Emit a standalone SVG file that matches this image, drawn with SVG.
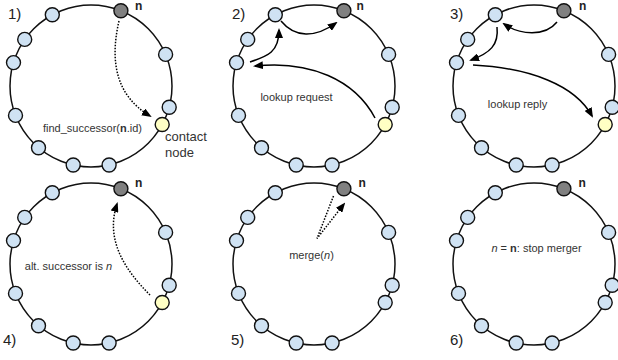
<svg xmlns="http://www.w3.org/2000/svg" width="618" height="360" viewBox="0 0 618 360">
<style>
.ring{fill:none;stroke:#111;stroke-width:1.5}
.peer{fill:#cfe2f3;stroke:#111;stroke-width:1.4}
.self{fill:#808080;stroke:#111;stroke-width:1.4}
.contact{fill:#ffffc4;stroke:#111;stroke-width:1.4}
.arr{fill:none;stroke:#000;stroke-width:1.5;marker-end:url(#ah)}
.dot{stroke-dasharray:1.5 1.5}
text{font-family:"Liberation Sans",Arial,sans-serif;fill:#333}
.lbl{font-size:11px;text-anchor:middle}
.num{font-size:15px;fill:#222}
.nl{font-size:12px;font-weight:bold;fill:#222}
</style>
<defs>
<marker id="ah" viewBox="0 0 10 8" refX="8" refY="4" markerWidth="10" markerHeight="8" markerUnits="userSpaceOnUse" orient="auto">
<path d="M0,0 L10,4 L0,8 z" fill="#000"/>
</marker>
</defs>

<g id="panel1" transform="translate(91,86)">
<circle class="ring" r="81"/>
<g id="p1-a"><circle class="peer" cx="-38.7" cy="-71.2" r="7"/></g>
<g id="p1-b"><circle class="peer" cx="-66.3" cy="-46.6" r="7"/></g>
<g id="p1-c"><circle class="peer" cx="-77.5" cy="-23.4" r="7"/></g>
<g id="p1-d"><circle class="peer" cx="-75.5" cy="29.4" r="7"/></g>
<g id="p1-e"><circle class="peer" cx="-52.5" cy="61.7" r="7"/></g>
<g id="p1-f"><circle class="peer" cx="-17.8" cy="79" r="7"/></g>
<g id="p1-g"><circle class="peer" cx="18.1" cy="79" r="7"/></g>
<g id="p1-h"><circle class="peer" cx="74.6" cy="-31.6" r="7"/></g>
<g id="p1-i"><circle class="peer" cx="78.2" cy="21.2" r="7"/></g>
<g id="p1-y"><circle class="contact" cx="71.2" cy="38.5" r="7"/></g>
<g id="p1-n"><circle class="self" cx="29.9" cy="-75.3" r="7"/></g>
</g>

<g id="panel2" transform="translate(314,86)">
<circle class="ring" r="81"/>
<g id="p2-a"><circle class="peer" cx="-38.7" cy="-71.2" r="7"/></g>
<g id="p2-b"><circle class="peer" cx="-66.3" cy="-46.6" r="7"/></g>
<g id="p2-c"><circle class="peer" cx="-77.5" cy="-23.4" r="7"/></g>
<g id="p2-d"><circle class="peer" cx="-75.5" cy="29.4" r="7"/></g>
<g id="p2-e"><circle class="peer" cx="-52.5" cy="61.7" r="7"/></g>
<g id="p2-f"><circle class="peer" cx="-17.8" cy="79" r="7"/></g>
<g id="p2-g"><circle class="peer" cx="18.1" cy="79" r="7"/></g>
<g id="p2-h"><circle class="peer" cx="74.6" cy="-31.6" r="7"/></g>
<g id="p2-i"><circle class="peer" cx="78.2" cy="21.2" r="7"/></g>
<g id="p2-y"><circle class="contact" cx="71.2" cy="38.5" r="7"/></g>
<g id="p2-n"><circle class="self" cx="29.9" cy="-75.3" r="7"/></g>
</g>

<g id="panel3" transform="translate(534,86)">
<circle class="ring" r="81"/>
<g id="p3-a"><circle class="peer" cx="-38.7" cy="-71.2" r="7"/></g>
<g id="p3-b"><circle class="peer" cx="-66.3" cy="-46.6" r="7"/></g>
<g id="p3-c"><circle class="peer" cx="-77.5" cy="-23.4" r="7"/></g>
<g id="p3-d"><circle class="peer" cx="-75.5" cy="29.4" r="7"/></g>
<g id="p3-e"><circle class="peer" cx="-52.5" cy="61.7" r="7"/></g>
<g id="p3-f"><circle class="peer" cx="-17.8" cy="79" r="7"/></g>
<g id="p3-g"><circle class="peer" cx="18.1" cy="79" r="7"/></g>
<g id="p3-h"><circle class="peer" cx="74.6" cy="-31.6" r="7"/></g>
<g id="p3-i"><circle class="peer" cx="78.2" cy="21.2" r="7"/></g>
<g id="p3-y"><circle class="contact" cx="71.2" cy="38.5" r="7"/></g>
<g id="p3-n"><circle class="self" cx="29.9" cy="-75.3" r="7"/></g>
</g>

<g id="panel4" transform="translate(91,264)">
<circle class="ring" r="81"/>
<g id="p4-a"><circle class="peer" cx="-38.7" cy="-71.2" r="7"/></g>
<g id="p4-b"><circle class="peer" cx="-66.3" cy="-46.6" r="7"/></g>
<g id="p4-c"><circle class="peer" cx="-77.5" cy="-23.4" r="7"/></g>
<g id="p4-d"><circle class="peer" cx="-75.5" cy="29.4" r="7"/></g>
<g id="p4-e"><circle class="peer" cx="-52.5" cy="61.7" r="7"/></g>
<g id="p4-f"><circle class="peer" cx="-17.8" cy="79" r="7"/></g>
<g id="p4-g"><circle class="peer" cx="18.1" cy="79" r="7"/></g>
<g id="p4-h"><circle class="peer" cx="74.6" cy="-31.6" r="7"/></g>
<g id="p4-i"><circle class="peer" cx="78.2" cy="21.2" r="7"/></g>
<g id="p4-y"><circle class="contact" cx="71.2" cy="38.5" r="7"/></g>
<g id="p4-n"><circle class="self" cx="29.9" cy="-75.3" r="7"/></g>
</g>

<g id="panel5" transform="translate(314,264)">
<circle class="ring" r="81"/>
<g id="p5-a"><circle class="peer" cx="-38.7" cy="-71.2" r="7"/></g>
<g id="p5-b"><circle class="peer" cx="-66.3" cy="-46.6" r="7"/></g>
<g id="p5-c"><circle class="peer" cx="-77.5" cy="-23.4" r="7"/></g>
<g id="p5-d"><circle class="peer" cx="-75.5" cy="29.4" r="7"/></g>
<g id="p5-e"><circle class="peer" cx="-52.5" cy="61.7" r="7"/></g>
<g id="p5-f"><circle class="peer" cx="-17.8" cy="79" r="7"/></g>
<g id="p5-g"><circle class="peer" cx="18.1" cy="79" r="7"/></g>
<g id="p5-h"><circle class="peer" cx="74.6" cy="-31.6" r="7"/></g>
<g id="p5-i"><circle class="peer" cx="78.2" cy="21.2" r="7"/></g>
<g id="p5-y"><circle class="peer" cx="71.2" cy="38.5" r="7"/></g>
<g id="p5-n"><circle class="self" cx="29.9" cy="-75.3" r="7"/></g>
</g>

<g id="panel6" transform="translate(534,264)">
<circle class="ring" r="81"/>
<g id="p6-a"><circle class="peer" cx="-38.7" cy="-71.2" r="7"/></g>
<g id="p6-b"><circle class="peer" cx="-66.3" cy="-46.6" r="7"/></g>
<g id="p6-c"><circle class="peer" cx="-77.5" cy="-23.4" r="7"/></g>
<g id="p6-d"><circle class="peer" cx="-75.5" cy="29.4" r="7"/></g>
<g id="p6-e"><circle class="peer" cx="-52.5" cy="61.7" r="7"/></g>
<g id="p6-f"><circle class="peer" cx="-17.8" cy="79" r="7"/></g>
<g id="p6-g"><circle class="peer" cx="18.1" cy="79" r="7"/></g>
<g id="p6-h"><circle class="peer" cx="74.6" cy="-31.6" r="7"/></g>
<g id="p6-i"><circle class="peer" cx="78.2" cy="21.2" r="7"/></g>
<g id="p6-y"><circle class="peer" cx="71.2" cy="38.5" r="7"/></g>
<g id="p6-n"><circle class="self" cx="29.9" cy="-75.3" r="7"/></g>
</g>

<g id="connectors">
<path class="arr dot" d="M119,21 C110,60 115,95 150,116"/>
<path class="arr" d="M375,118 C355,80 310,60 255,66"/>
<path class="arr" d="M250,62 C268,56 279,52 279,30"/>
<path class="arr" d="M281,21 C295,38 315,38 336,23"/>
<path class="arr" d="M557,22 C545,37 520,35 504,24"/>
<path class="arr" d="M497,27 C499,45 490,53 471,60"/>
<path class="arr" d="M473,65 C530,68 575,85 592,116"/>
<path class="arr dot" d="M150,295 C125,270 105,240 117,204"/>
<path class="arr dot" d="M333.5,196 L317,238.5 L344,204"/>
</g>

<g id="labels">
<text class="num" x="8" y="18.5">1)</text>
<text class="num" x="232" y="18.5">2)</text>
<text class="num" x="450" y="18.5">3)</text>
<text class="num" x="3" y="344.5">4)</text>
<text class="num" x="231" y="344.5">5)</text>
<text class="num" x="450" y="344.5">6)</text>
<text class="nl" x="135" y="9.5">n</text>
<text class="nl" x="356.5" y="9.5">n</text>
<text class="nl" x="579" y="9.5">n</text>
<text class="nl" x="135" y="187">n</text>
<text class="nl" x="358.5" y="187">n</text>
<text class="nl" x="578.5" y="187">n</text>
<text class="lbl" x="92.5" y="131.5">find_successor(<tspan font-weight="bold">n</tspan>.id)</text>
<text x="165" y="141" font-size="13">contact</text>
<text x="165" y="157" font-size="13">node</text>
<text class="lbl" x="296.5" y="101">lookup request</text>
<text class="lbl" x="517.5" y="107.5">lookup reply</text>
<text class="lbl" x="68.5" y="269.5">alt. successor is <tspan font-style="italic">n</tspan></text>
<text class="lbl" x="311.5" y="258.5">merge(<tspan font-style="italic">n</tspan>)</text>
<text class="lbl" x="536.5" y="252"><tspan font-style="italic">n</tspan> = <tspan font-weight="bold">n</tspan>: stop merger</text>
</g>
</svg>
